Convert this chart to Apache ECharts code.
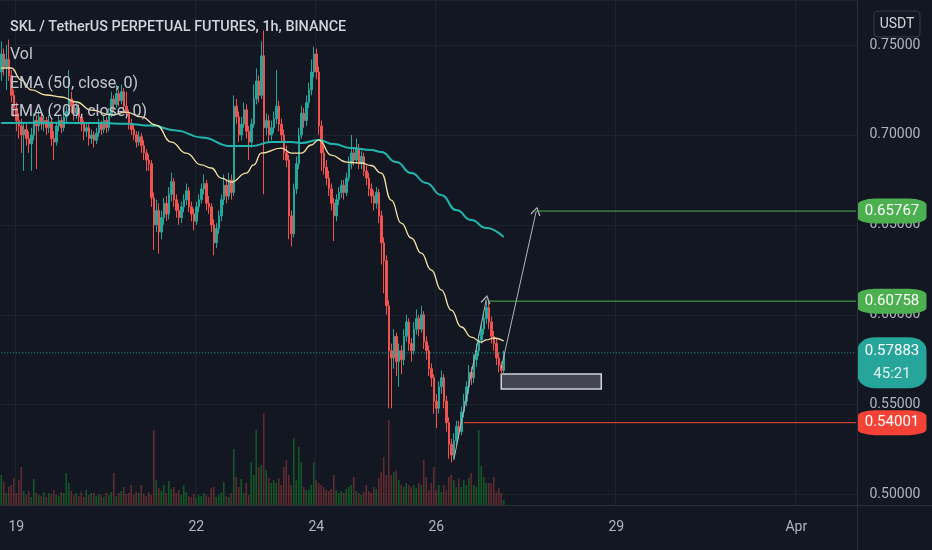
<!DOCTYPE html>
<html><head><meta charset="utf-8">
<script src="https://cdn.jsdelivr.net/npm/echarts@6/dist/echarts.min.js"></script>
<style>html,body{margin:0;padding:0;background:#131722;}#c{width:932px;height:550px;}</style>
</head><body><div id="c"></div>
<script>
// ---- data ----
const startHourUTC = Date.UTC(2023, 2, 18, 18);
const hourCount = 343;
const tickIndex = [6, 78, 126, 174, 246, 318];
const tickLabels = ['19', '22', '24', '26', '29', 'Apr'];
const firstOpen = 0.735;
const closes = [
.745,.738,.742,.733,.722,.715,.708,.705,.700,.703,
.698,.695,.700,.708,.705,.710,.706,.708,.704,.707,
.698,.696,.705,.708,.704,.710,.713,.720,.716,.712,
.715,.710,.706,.702,.704,.698,.700,.697,.701,.706,
.703,.708,.704,.712,.720,.717,.723,.719,.724,.716,
.712,.706,.703,.700,.696,.699,.694,.690,.686,.684,
.665,.650,.658,.646,.654,.662,.656,.667,.674,.664,
.658,.654,.660,.664,.669,.660,.656,.652,.660,.664,
.670,.673,.662,.660,.650,.640,.648,.655,.664,.672,
.666,.675,.668,.716,.710,.700,.706,.714,.702,.696,
.706,.720,.730,.722,.744,.704,.708,.700,.704,.709,
.716,.706,.700,.690,.686,.655,.645,.670,.684,.700,
.712,.708,.718,.725,.735,.745,.735,.705,.690,.682,
.676,.670,.662,.655,.664,.668,.672,.668,.676,.684,
.690,.686,.692,.684,.688,.680,.676,.670,.666,.662,
.668,.655,.640,.630,.605,.580,.576,.588,.574,.580,
.575,.588,.596,.584,.580,.592,.598,.592,.600,.585,
.580,.570,.565,.552,.548,.560,.565,.552,.540,.528,
.522,.530,.538,.535,.546,.552,.560,.568,.565,.575,
.580,.586,.592,.598,.604,.596,.588,.584,.576,.572,
.569,.57883];
const highs = [
.752,.748,.750,.753,.736,.725,.718,.712,.709,.707,
.706,.702,.704,.712,.711,.714,.713,.711,.710,.711,
.709,.702,.707,.711,.710,.713,.716,.736,.724,.719,
.718,.717,.712,.708,.707,.706,.703,.702,.704,.709,
.708,.711,.710,.715,.724,.722,.728,.725,.728,.726,
.724,.714,.709,.706,.702,.702,.701,.697,.692,.689,
.686,.668,.664,.662,.658,.665,.666,.671,.679,.676,
.667,.662,.663,.667,.673,.671,.663,.659,.663,.667,
.673,.678,.675,.666,.662,.653,.651,.658,.667,.678,
.675,.679,.678,.722,.720,.713,.710,.718,.717,.705,
.709,.728,.737,.733,.752,.758,.712,.711,.708,.713,
.736,.719,.709,.703,.694,.689,.658,.673,.688,.704,
.716,.715,.722,.729,.742,.749,.748,.738,.708,.694,
.686,.680,.673,.665,.667,.671,.675,.675,.679,.688,
.700,.693,.698,.695,.691,.690,.683,.679,.673,.669,
.671,.670,.658,.643,.633,.608,.584,.592,.590,.584,
.583,.592,.600,.598,.587,.596,.603,.600,.605,.602,
.588,.583,.573,.567,.556,.563,.569,.567,.555,.543,
.531,.534,.541,.541,.549,.556,.563,.572,.571,.578,
.584,.589,.595,.601,.6076,.6076,.599,.591,.587,.579,
.574,.5800];
const lows = [
.730,.733,.725,.730,.718,.710,.702,.698,.690,.680,
.694,.690,.680,.697,.681,.702,.703,.702,.700,.701,
.694,.686,.694,.702,.701,.702,.707,.711,.712,.708,
.709,.706,.702,.697,.699,.694,.695,.693,.695,.699,
.700,.701,.701,.702,.710,.713,.715,.716,.717,.713,
.709,.703,.700,.697,.693,.694,.690,.686,.680,.680,
.660,.636,.646,.634,.642,.650,.652,.653,.663,.660,
.654,.650,.651,.657,.661,.657,.652,.647,.650,.657,
.662,.667,.658,.656,.646,.633,.637,.645,.652,.661,
.662,.664,.664,.666,.706,.696,.697,.704,.698,.686,
.693,.704,.717,.718,.720,.667,.700,.696,.697,.701,
.706,.702,.696,.686,.682,.642,.638,.643,.667,.681,
.698,.704,.705,.715,.722,.732,.731,.700,.680,.678,
.672,.666,.658,.641,.652,.661,.665,.664,.666,.674,
.681,.683,.684,.681,.681,.677,.672,.666,.662,.658,
.659,.651,.628,.612,.600,.548,.548,.570,.566,.560,
.567,.572,.585,.580,.574,.578,.589,.588,.590,.581,
.575,.566,.560,.545,.537,.545,.556,.548,.535,.520,
.518,.520,.527,.531,.533,.543,.549,.556,.561,.562,
.571,.577,.584,.589,.595,.592,.584,.580,.572,.568,
.5668,.5675];
const volumes = [
30,23,12,18,20,27,12,25,38,14,
10,14,8,26,12,10,9,13,8,12,
11,15,10,9,13,12,32,22,14,10,
12,9,13,8,15,10,12,12,9,11,
10,8,12,10,13,32,9,12,14,18,
11,12,20,10,13,12,20,11,9,13,
10,75,25,17,14,20,12,24,16,18,
12,15,10,20,13,9,8,11,7,10,
9,12,10,8,17,18,8,10,12,23,
9,8,12,56,28,18,26,12,22,10,
43,30,75,38,40,92,35,27,22,25,
22,27,20,38,45,30,20,67,25,58,
43,18,15,15,20,43,25,22,20,18,
15,14,16,30,15,12,14,12,16,18,
20,28,14,12,10,13,20,14,12,18,
16,27,33,48,30,85,30,33,35,25,
20,18,22,20,18,20,17,22,20,45,
28,15,22,38,15,20,13,20,15,28,
30,25,18,27,18,25,20,27,32,20,
18,75,39,28,22,22,22,28,13,17,
12,5];
const ema50Idx = [0,4,8,12,18,24,30,36,44,50,56,62,68,74,80,84,88,92,98,101,104,112,116,120,124,127,132,138,144,148,152,156,160,164,168,172,176,180,184,188,192,194,197,201];
const ema50Val = [.7372,.7372,.7305,.7250,.7222,.7211,.7183,.7138,.7111,.7127,.7100,.7055,.6960,.6899,.6833,.6816,.6760,.6738,.6788,.6833,.6899,.6927,.6899,.6899,.6944,.6972,.6888,.6849,.6844,.6830,.6788,.6638,.6510,.6427,.6343,.6249,.6138,.6026,.5932,.5876,.5848,.5860,.5871,.5854];
const ema200Idx = [0,20,40,50,60,70,80,92,100,108,116,120,127,133,140,148,152,158,164,170,176,182,188,194,201];
const ema200Val = [.7066,.7068,.7066,.7062,.7052,.7025,.6986,.6938,.6938,.6960,.6960,.6955,.6972,.6949,.6927,.6916,.6905,.6849,.6788,.6733,.6666,.6582,.6527,.6482,.6432];
const levelTarget = 0.65767;
const levelHigh = 0.60758;
const levelCurrent = 0.57883;
const levelStop = 0.54001;
const countdown = '45:21';
const targetStartIdx = 214, highStartIdx = 195, stopStartIdx = 185;
const zoneIdx = [200, 240];
const zoneVal = [0.5671, 0.5587];
const arrowUp1 = [[181, 0.5192], [194, 0.6085]];
const arrowUp2 = [[200, 0.5704], [214, 0.65767]];
const titleText = 'SKL / TetherUS PERPETUAL FUTURES, 1h, BINANCE';
const legendTexts = ['Vol', 'EMA (50, close, 0)', 'EMA (200, close, 0)'];

// ---- build ----
const categories = [];
for (let i = 0; i < hourCount; i++) {
  const d = new Date(startHourUTC + i * 3600000);
  categories.push((d.getUTCMonth() + 1) + '-' + d.getUTCDate() + ' ' + d.getUTCHours() + ':00');
}
const opens = closes.map((c, i) => i === 0 ? firstOpen : closes[i - 1]);
const candles = closes.map((c, i) => [opens[i], c, lows[i], highs[i]]);
const UP = '#26a69a', DOWN = '#ef5350', GREEN = '#4caf50', RED = '#f44336', GREY = '#b2b5be';
const volData = volumes.map((v, i) => ({
  value: v,
  itemStyle: { color: closes[i] >= opens[i] ? 'rgba(20,140,40,0.55)' : 'rgba(239,83,80,0.34)' }
}));
const ema50 = ema50Idx.map((x, k) => [x, ema50Val[k]]);
const ema200 = ema200Idx.map((x, k) => [x, ema200Val[k]]);
const lastIdx = hourCount - 1;
const FONT = 'Roboto, "Noto Sans", sans-serif';
const isTick = (idx) => tickIndex.indexOf(idx) >= 0;
const chevron = 'path://M5,0 L10,7 L9,8 L5,2 L1,8 L0,7 Z';

function levelSeries(name, startIdx, val, color, type) {
  return {
    type: 'line', name: name, data: [[startIdx, val], [lastIdx, val]], showSymbol: false, silent: true, z: 5,
    lineStyle: { color: color, width: 1, type: type || 'solid' }, clip: false
  };
}
function arrowLine(pts) {
  const ls = { color: GREY, type: 'solid', width: 1, opacity: 1 };
  return [{ coord: pts[0], symbol: 'none', lineStyle: ls }, { coord: pts[1], symbol: chevron, symbolSize: [10, 9], lineStyle: ls, itemStyle: { color: GREY } }];
}
function priceBox(val, color, text, size, offY) {
  return {
    coord: [lastIdx, val], value: val,
    symbol: 'roundRect', symbolSize: size, symbolOffset: [35.75, offY || 0],
    itemStyle: { color: color },
    label: { show: true, position: 'inside', formatter: text, color: '#ffffff', fontSize: 15, fontFamily: FONT,
      rich: { a: { fontSize: 15, color: '#ffffff', lineHeight: 23, fontFamily: FONT },
              b: { fontSize: 15, color: 'rgba(255,255,255,0.85)', lineHeight: 23, fontFamily: FONT } } }
  };
}

const chart = echarts.init(document.getElementById('c'), null, { renderer: 'canvas' });
chart.setOption({
  backgroundColor: '#131722',
  animation: false,
  grid: { left: 0, right: 74.5, top: 0, bottom: 45, containLabel: false, outerBoundsMode: 'none' },
  xAxis: {
    type: 'category', data: categories, boundaryGap: true,
    axisLine: { show: false },
    axisTick: { show: false, alignWithLabel: true, interval: (i) => isTick(i) },
    axisLabel: {
      interval: (i) => isTick(i),
      formatter: (v, i) => tickLabels[tickIndex.indexOf(i)] || '',
      color: GREY, fontSize: 14, fontFamily: FONT, margin: 15
    },
    splitLine: { show: true, interval: (i) => isTick(i), lineStyle: { color: '#1e222d', width: 1 } }
  },
  yAxis: [{
    type: 'value', position: 'right', min: 0.494231, max: 0.775021, splitNumber: 5, scale: true,
    axisLine: { show: false }, axisTick: { show: false },
    axisLabel: {
      color: GREY, fontSize: 14, fontFamily: FONT, margin: 12,
      showMinLabel: false, showMaxLabel: false,
      formatter: (v) => Math.abs(v / 0.05 - Math.round(v / 0.05)) < 1e-6 ? v.toFixed(5) : ''
    },
    splitLine: { show: true, lineStyle: { color: '#1e222d', width: 1 } }
  }, {
    type: 'value', min: 0, max: 505, show: false, splitLine: { show: false }
  }],
  series: [{
    type: 'bar', name: 'Vol', yAxisIndex: 1, data: volData, barWidth: 1.6, silent: true, z: 1
  }, {
    type: 'candlestick', name: 'SKL', data: candles, barWidth: 2, clip: false, z: 2,
    itemStyle: { color: UP, color0: DOWN, borderColor: UP, borderColor0: DOWN, borderWidth: 1 },
    markArea: {
      silent: true,
      itemStyle: { color: '#434651', borderColor: '#d1d4dc', borderWidth: 1.5 },
      data: [[{ coord: [zoneIdx[0], zoneVal[0]] }, { coord: [zoneIdx[1], zoneVal[1]] }]]
    },
    markLine: {
      silent: true, symbol: ['none', 'none'], label: { show: false },
      emphasis: { disabled: true },
      data: [arrowLine(arrowUp1), arrowLine(arrowUp2)]
    },
    markPoint: {
      silent: true,
      data: [
        priceBox(levelTarget, GREEN, levelTarget.toFixed(5), [69, 25], 0),
        priceBox(levelHigh, GREEN, levelHigh.toFixed(5), [69, 25], 0),
        priceBox(levelCurrent, UP, '{a|' + levelCurrent.toFixed(5) + '}\n{b|' + countdown + '}', [69, 51], 10),
        priceBox(levelStop, RED, levelStop.toFixed(5), [69, 25], 0)
      ]
    }
  }, {
    type: 'line', name: 'EMA200', data: ema200, smooth: 0.5, smoothMonotone: 'x', showSymbol: false, silent: true, z: 3,
    lineStyle: { color: '#22b5ad', width: 2 }
  }, {
    type: 'line', name: 'EMA50', data: ema50, smooth: 0.5, smoothMonotone: 'x', showSymbol: false, silent: true, z: 4,
    lineStyle: { color: '#f5e3a3', width: 1.3 }
  },
    levelSeries('current', 0, levelCurrent, UP, [1, 2]),
    levelSeries('target', targetStartIdx, levelTarget, GREEN),
    levelSeries('high', highStartIdx, levelHigh, GREEN),
    levelSeries('stop', stopStartIdx, levelStop, RED)
  ],
  graphic: [
    { type: 'line', shape: { x1: 857.5, y1: 0, x2: 857.5, y2: 550 }, style: { stroke: '#2a2e39', lineWidth: 1 }, z: 10 },
    { type: 'line', shape: { x1: 0, y1: 505.5, x2: 932, y2: 505.5 }, style: { stroke: '#2a2e39', lineWidth: 1 }, z: 10 },
    { type: 'rect', shape: { x: 874, y: 11, width: 46, height: 26, r: 4 }, style: { fill: '#131722', stroke: '#363a45', lineWidth: 1 }, z: 10 },
    { type: 'text', x: 897, y: 24, style: { text: 'USDT', fill: '#d1d4dc', fontSize: 14, fontFamily: FONT, align: 'center', verticalAlign: 'middle' }, z: 11 },
    { type: 'text', x: 10, y: 27, style: { text: titleText, fill: '#d1d4dc', fontSize: 14.4, fontWeight: 500, fontFamily: FONT, verticalAlign: 'middle' }, z: 11 },
    { type: 'text', x: 10, y: 55, style: { text: legendTexts[0], fill: '#c3c6ce', fontSize: 16, fontFamily: FONT, verticalAlign: 'middle' }, z: 11 },
    { type: 'text', x: 10, y: 84, style: { text: legendTexts[1], fill: '#c3c6ce', fontSize: 16, fontFamily: FONT, verticalAlign: 'middle' }, z: 11 },
    { type: 'text', x: 10, y: 112, style: { text: legendTexts[2], fill: '#c3c6ce', fontSize: 16, fontFamily: FONT, verticalAlign: 'middle' }, z: 11 }
  ]
});
</script>
</body></html>
